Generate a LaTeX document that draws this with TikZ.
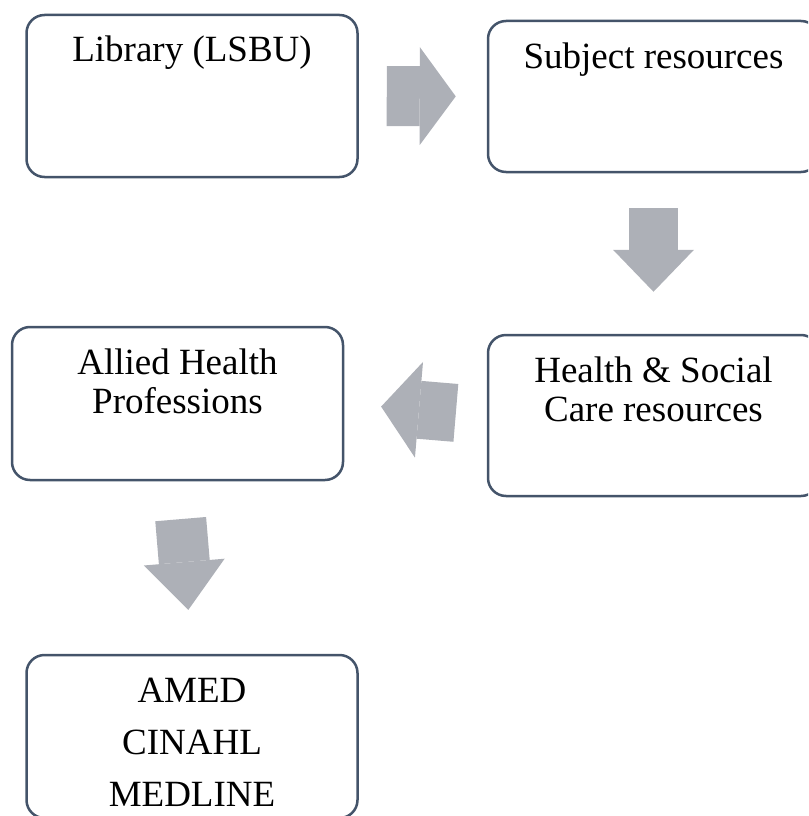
\documentclass[tikz,border=0pt]{standalone}
\usepackage{fontspec}
\setmainfont{Liberation Serif}
\usepackage{tikz}
\usetikzlibrary{arrows.meta,calc,positioning}
\definecolor{boxline}{RGB}{68,84,106}
\definecolor{arrowgrey}{RGB}{173,176,183}
% text set at the top of a box of given height
\newcommand{\boxtext}[3][39pt]{\parbox[c][#2][t]{325pt}{\centering\fontsize{37pt}{#1}\selectfont\rule{0pt}{47pt}#3}}

\begin{document}
\begin{tikzpicture}[x=1pt, y=-1pt]
   \useasboundingbox (0,0) rectangle (808,816);
   \clip (0,0) rectangle (808,816);
   \begin{scope}[every node/.style={draw=boxline, line width=2.5pt, rounded corners=18pt, fill=white, inner sep=0pt, minimum width=331pt}]
    \node (lib) at (192,96) {\boxtext{162pt}{Library (LSBU)}};
    \node (subj) at (653.5,96.5) {\boxtext{151pt}{Subject resources}};
    \node (hsc) at (653.5,415.5) {\boxtext{161pt}{Health \& Social\\Care resources}};
    \node (ahp) at (177.5,403.5) {\boxtext{153pt}{Allied Health\\Professions}};
    \node (db) at (192,736.5) {\boxtext[52pt]{163pt}{AMED\\CINAHL\\MEDLINE}};
   \end{scope}
   \begin{scope}[draw=arrowgrey]
    \draw [line width=60pt, -{Triangle[width=98pt,length=36pt,line width=0pt]}, shorten <=28pt, shorten >=31pt] (lib.east) -- (subj.west);
    \draw [line width=49pt, -{Triangle[width=81pt,length=42pt,line width=0pt]}, shorten <=35pt, shorten >=42pt] (subj.south) -- (hsc.north);
    \draw [line width=58pt, -{Triangle[width=96pt,length=38pt,line width=0pt]}, shorten <=31pt, shorten >=37pt] (hsc.west) -- (ahp.east);
    \draw [line width=51pt, -{Triangle[width=81pt,length=48pt,line width=0pt]}, shorten <=38pt, shorten >=44pt] (ahp.south) -- (db.north);
   \end{scope}
\end{tikzpicture}
\end{document}
